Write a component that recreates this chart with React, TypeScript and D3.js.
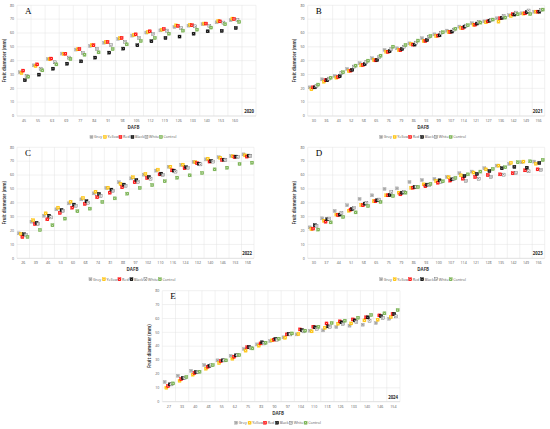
import React from "react";
import * as d3 from "d3";

const seriesNames = ["Grey", "Yellow", "Red", "Black", "White", "Control"];
const seriesColors = ["#bfbfbf", "#ffc000", "#ff0000", "#000000", "#ffffff", "#70ad47"];
const yTicks = [0, 10, 20, 30, 40, 50, 60, 70, 80];

// Panel A (2020)
const daysA = [45, 55, 63, 69, 77, 84, 91, 98, 105, 112, 119, 126, 133, 140, 153, 160];
const greyA = [31.6, 36.6, 41.2, 45.1, 48.0, 50.6, 53.0, 55.7, 58.1, 60.3, 61.9, 64.3, 65.3, 66.3, 67.7, 69.2];
const yellowA = [31.1, 36.1, 41.0, 45.0, 48.2, 51.1, 53.5, 56.2, 58.6, 60.7, 62.4, 65.5, 65.8, 66.8, 68.7, 70.4];
const redA = [32.8, 37.3, 41.5, 45.0, 48.4, 51.1, 53.5, 56.4, 59.0, 61.2, 62.9, 65.1, 65.6, 66.8, 68.4, 70.1];
const blackA = [25.8, 29.9, 34.2, 37.8, 39.5, 42.2, 45.8, 48.7, 51.1, 54.0, 56.4, 57.4, 59.5, 61.2, 61.5, 63.6];
const whiteA = [28.7, 34.2, 38.8, 42.2, 45.5, 48.4, 51.1, 53.7, 56.4, 59.3, 61.7, 63.4, 64.8, 65.1, 67.5, 69.2];
const controlA = [28.4, 33.0, 37.3, 41.2, 44.3, 46.0, 48.4, 51.8, 54.2, 56.4, 59.5, 61.7, 62.4, 63.9, 66.3, 68.0];

// Panel B (2021)
const daysB = [30, 36, 43, 52, 58, 65, 76, 79, 86, 93, 99, 107, 114, 121, 127, 136, 142, 149, 156];
const greyB = [20.7, 26.5, 28.9, 34.0, 38.1, 41.7, 47.7, 48.9, 52.5, 56.2, 59.0, 61.7, 64.6, 67.0, 68.4, 70.6, 72.8, 74.2, 75.4];
const yellowB = [19.3, 24.8, 27.7, 32.5, 36.6, 40.5, 46.5, 47.7, 52.0, 54.2, 57.8, 60.7, 63.6, 66.0, 67.7, 68.2, 72.3, 74.0, 75.4];
const redB = [20.7, 25.8, 28.2, 32.8, 36.9, 40.2, 46.3, 47.5, 51.6, 54.2, 58.1, 60.7, 63.6, 66.0, 68.4, 70.6, 73.5, 74.2, 75.4];
const blackB = [20.7, 25.8, 28.7, 33.3, 37.4, 40.5, 46.8, 48.4, 51.6, 54.9, 58.3, 61.0, 64.6, 66.8, 68.9, 70.9, 73.3, 75.0, 75.4];
const whiteB = [21.9, 27.0, 31.3, 35.7, 39.0, 42.4, 48.4, 50.1, 53.0, 56.9, 59.8, 62.4, 65.3, 68.0, 69.4, 72.3, 74.7, 76.2, 76.6];
const controlB = [22.7, 27.7, 31.6, 36.4, 40.0, 43.6, 50.1, 51.3, 54.5, 57.8, 60.5, 63.1, 65.6, 67.5, 69.7, 71.1, 73.5, 73.7, 76.9];

// Panel C (2022)
const daysC = [26, 39, 46, 53, 60, 68, 74, 81, 88, 97, 102, 110, 116, 124, 132, 140, 146, 153, 158];
const greyC = [18.0, 26.4, 30.7, 35.3, 39.6, 42.5, 46.8, 50.7, 54.8, 57.6, 60.3, 63.2, 66.0, 67.3, 69.4, 71.3, 72.8, 73.7, 74.9];
const yellowC = [17.5, 27.4, 32.4, 36.5, 40.8, 43.5, 48.0, 50.9, 53.6, 58.4, 60.8, 63.9, 66.0, 67.5, 69.2, 71.8, 72.5, 73.5, 74.2];
const redC = [15.4, 24.7, 28.1, 32.7, 36.5, 39.2, 44.0, 47.3, 51.2, 54.8, 57.9, 60.5, 63.4, 64.9, 68.5, 69.7, 70.9, 73.0, 73.3];
const blackC = [17.3, 25.5, 30.7, 34.8, 38.7, 41.1, 46.4, 49.5, 53.1, 56.4, 58.6, 61.0, 63.2, 65.6, 68.2, 70.1, 71.1, 73.3, 74.0];
const whiteC = [16.8, 24.7, 29.5, 34.1, 37.7, 40.1, 44.9, 48.5, 52.1, 55.2, 57.4, 60.0, 62.5, 65.1, 67.7, 69.7, 70.9, 72.8, 73.7];
const controlC = [15.4, 20.4, 23.8, 28.6, 33.9, 35.8, 40.6, 43.2, 46.6, 50.7, 52.8, 55.5, 58.1, 59.8, 61.5, 64.1, 65.3, 68.0, 68.9];

// Panel D (2023)
const daysD = [30, 37, 44, 51, 58, 65, 75, 79, 86, 93, 100, 107, 114, 121, 128, 135, 142, 149, 156];
const greyD = [22.3, 28.8, 34.1, 38.2, 42.8, 45.4, 50.0, 50.4, 55.0, 56.4, 57.2, 58.6, 61.3, 62.5, 64.9, 66.8, 68.0, 69.2, 69.7];
const yellowD = [21.1, 27.1, 31.5, 34.3, 38.4, 41.1, 45.4, 47.3, 50.9, 53.3, 55.7, 58.4, 59.8, 61.8, 64.1, 66.8, 68.8, 69.7, 68.2];
const redD = [21.4, 26.4, 31.2, 35.1, 38.2, 41.1, 45.4, 46.1, 50.9, 51.9, 54.5, 56.0, 57.4, 58.6, 60.0, 60.5, 61.3, 63.4, 64.1];
const blackD = [23.8, 28.1, 31.5, 35.5, 39.4, 41.8, 45.6, 47.3, 51.4, 53.1, 56.2, 56.9, 59.3, 60.8, 62.9, 64.9, 65.9, 65.3, 68.7];
const whiteD = [23.3, 28.6, 32.7, 36.3, 39.9, 42.3, 47.6, 48.0, 51.6, 52.6, 54.8, 57.2, 55.7, 57.4, 58.6, 60.3, 61.3, 62.7, 63.7];
const controlD = [20.7, 25.9, 29.8, 33.1, 37.7, 40.6, 44.9, 47.3, 51.4, 53.6, 55.5, 57.9, 60.5, 62.5, 64.4, 65.6, 69.2, 69.9, 70.9];

// Panel E (2024)
const daysE = [27, 33, 40, 48, 55, 62, 75, 83, 90, 97, 104, 110, 118, 126, 133, 140, 146, 154];
const greyE = [14.2, 18.7, 22.3, 26.4, 29.8, 33.1, 38.0, 41.3, 43.7, 46.4, 48.5, 51.2, 51.4, 53.8, 54.8, 55.5, 56.7, 59.8];
const yellowE = [10.1, 15.1, 19.5, 23.8, 27.9, 31.0, 36.8, 40.4, 44.2, 46.1, 48.8, 50.7, 53.3, 56.2, 56.4, 58.6, 59.1, 61.0];
const redE = [11.3, 16.3, 20.7, 25.2, 29.3, 32.4, 39.2, 42.0, 44.7, 48.5, 52.1, 54.0, 56.4, 57.9, 59.3, 60.8, 62.2, 63.2];
const blackE = [12.5, 17.1, 21.4, 25.9, 29.8, 33.4, 39.4, 42.8, 45.2, 48.8, 51.6, 53.6, 54.3, 57.2, 58.6, 60.8, 61.7, 63.2];
const whiteE = [12.5, 17.3, 21.6, 26.2, 29.8, 33.6, 38.7, 42.0, 44.7, 48.5, 50.7, 52.6, 54.0, 56.0, 57.4, 58.4, 60.3, 61.5];
const controlE = [13.2, 17.8, 21.6, 26.4, 29.8, 33.6, 38.4, 42.5, 45.4, 49.2, 51.2, 54.0, 56.7, 58.4, 60.5, 62.5, 63.7, 66.0];

type PanelDef = {
  letter: string;
  year: string;
  days: number[];
  series: number[][];
  extra: number;
  left: number;
  right: number;
  top: number;
  bottom: number;
};

const panels: PanelDef[] = [
  { letter: "A", year: "2020", days: daysA, series: [greyA, yellowA, redA, blackA, whiteA, controlA], extra: 1, left: 17, right: 256, top: 5.3, bottom: 116 },
  { letter: "B", year: "2021", days: daysB, series: [greyB, yellowB, redB, blackB, whiteB, controlB], extra: 0, left: 307.7, right: 544.7, top: 5.3, bottom: 116 },
  { letter: "C", year: "2022", days: daysC, series: [greyC, yellowC, redC, blackC, whiteC, controlC], extra: 0, left: 17, right: 254, top: 147.3, bottom: 258.3 },
  { letter: "D", year: "2023", days: daysD, series: [greyD, yellowD, redD, blackD, whiteD, controlD], extra: 0, left: 307.7, right: 544.7, top: 147.3, bottom: 258.3 },
  { letter: "E", year: "2024", days: daysE, series: [greyE, yellowE, redE, blackE, whiteE, controlE], extra: 0, left: 162.3, right: 400, top: 290.7, bottom: 401.7 },
];

const FONT = "'Open Sans', 'Liberation Sans', Arial, sans-serif";

function Marker({ x, y, i, s = 3.0 }: { x: number; y: number; i: number; s?: number }) {
  const h = s / 2;
  const fill = seriesColors[i];
  const stroke = i === 0 ? "#a6a6a6" : i === 4 ? "#595959" : fill;
  const cross = i === 0 ? "#808080" : i === 4 ? "#595959" : i === 3 ? "#bfbfbf" : "#ffffff";
  const c = h * 0.55;
  return (
    <g>
      <rect x={x - h} y={y - h} width={s} height={s} fill={fill} stroke={stroke} strokeWidth={0.4} />
      <path d={`M${x - c},${y - c}L${x + c},${y + c}M${x - c},${y + c}L${x + c},${y - c}`} stroke={cross} strokeWidth={0.45} />
    </g>
  );
}

function Panel({ p }: { p: PanelDef }) {
  const n = p.days.length + p.extra;
  const x = d3.scaleBand<number>().domain(d3.range(n)).range([p.left, p.right]).paddingInner(0).paddingOuter(0);
  const y = d3.scaleLinear().domain([0, 80]).range([p.bottom, p.top]);
  const bw = x.bandwidth();
  const step = 1.7;
  const cx = (p.left + p.right) / 2;
  const legendItems = seriesNames.map((name, i) => ({ name, i }));
  const legendWidths = [13.5, 15.5, 12, 14, 14.5, 16];
  const legendTotal = d3.sum(legendWidths);
  let lx = cx - 4 - legendTotal / 2;
  const legendPos = legendWidths.map((w) => {
    const v = lx;
    lx += w;
    return v;
  });
  const legendY = p.bottom + 21;
  return (
    <g>
      {yTicks.map((t) => (
        <line key={"h" + t} x1={p.left} x2={p.right} y1={y(t)} y2={y(t)} stroke={t === 0 ? "#bfbfbf" : "#e3e3e3"} strokeWidth={0.5} />
      ))}
      {d3.range(n + 1).map((k) => {
        const xx = p.left + k * bw;
        return <line key={"v" + k} x1={xx} x2={xx} y1={p.top} y2={p.bottom} stroke="#e3e3e3" strokeWidth={0.5} />;
      })}
      {yTicks.map((t) => (
        <text key={"yt" + t} x={p.left - 3} y={y(t) + 1.2} fontSize={3.6} fill="#595959" textAnchor="end" fontFamily={FONT}>
          {t}
        </text>
      ))}
      {p.days.map((d, k) => (
        <text key={"xt" + k} x={(x(k) as number) + bw / 2} y={p.bottom + 6} fontSize={3.6} fill="#595959" textAnchor="middle" fontFamily={FONT}>
          {d}
        </text>
      ))}
      <text
        transform={`translate(${p.left - 11.5},${(p.top + p.bottom) / 2}) rotate(-90)`}
        fontSize={4.3}
        fontWeight="bold"
        fill="#404040"
        textAnchor="middle"
        fontFamily={FONT}
      >
        Fruit diameter (mm)
      </text>
      <text x={cx - 3} y={p.bottom + 13} fontSize={4.5} fontWeight="bold" fill="#404040" textAnchor="middle" fontFamily={FONT}>
        DAFB
      </text>
      <text x={p.left + 8} y={p.top + 8.5} fontSize={9} fill="#000" fontFamily="'Liberation Serif', 'DejaVu Serif', serif">
        {p.letter}
      </text>
      <text x={p.right - 2} y={p.bottom - 3} fontSize={4.3} fontWeight="bold" fill="#262626" textAnchor="end" fontFamily={FONT}>
        {p.year}
      </text>
      {p.series.map((vals, i) =>
        vals.map((v, k) => (
          <Marker key={"m" + i + "_" + k} x={(x(k) as number) + bw / 2 + (i - 2.5) * step} y={y(v)} i={i} />
        ))
      )}
      {legendItems.map(({ name, i }) => (
        <g key={"lg" + i}>
          <Marker x={legendPos[i] + 1.7} y={legendY} i={i} s={3.0} />
          <text x={legendPos[i] + 4.3} y={legendY + 1.3} fontSize={3.7} fill="#595959" fontFamily={FONT}>
            {name}
          </text>
        </g>
      ))}
    </g>
  );
}

export default function App() {
  return (
    <div style={{ position: "absolute", left: 0, top: 0, width: 550, height: 429, background: "#fff" }}>
      <svg width={550} height={429} viewBox="0 0 550 429" style={{ display: "block" }}>
        <rect x={0} y={0} width={550} height={429} fill="#fff" />
        {panels.map((p) => (
          <Panel key={p.letter} p={p} />
        ))}
      </svg>
    </div>
  );
}
